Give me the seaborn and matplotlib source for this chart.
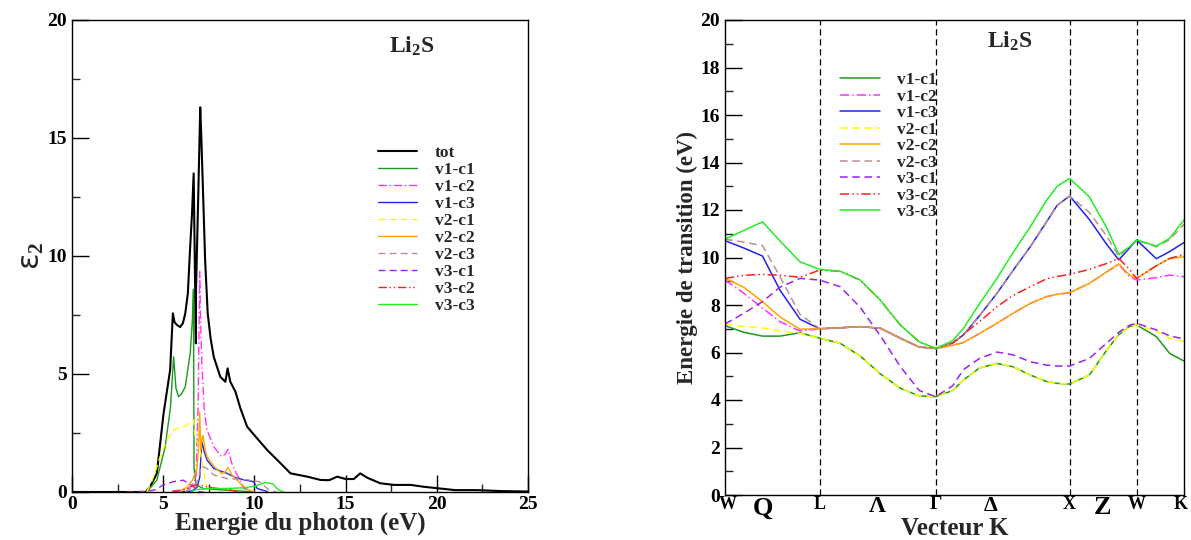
import numpy as np
import pandas as pd
import matplotlib
matplotlib.use("Agg")
import matplotlib.pyplot as plt
import seaborn as sns

# ---------------- Left panel data: epsilon_2 vs photon energy ----------------
tot_e = [0, 4.05, 4.3, 4.65, 5.02, 5.38, 5.53, 5.62, 5.75, 5.93, 6.08, 6.21, 6.35, 6.48, 6.58, 6.67,
         6.79, 6.80, 6.92, 7.03, 7.1, 7.18, 7.3, 7.44, 7.6, 7.77, 8.13, 8.41, 8.53, 8.68, 8.96, 9.23,
         9.6, 10.15, 10.7, 11.43, 11.98, 12.9, 13.63, 14.1, 14.54, 15.0, 15.45, 15.8, 16.2, 16.9,
         17.65, 18.57, 19.3, 20.04, 21.0, 22.2, 23.5, 25.0]
tot_y = [0, 0, 0.25, 0.79, 3.33, 5.17, 7.57, 7.2, 7.08, 6.99, 7.15, 7.57, 8.4, 10.4, 11.8, 13.5,
         6.3, 8.6, 12.5, 16.3, 14.8, 12.8, 9.8, 7.57, 6.5, 5.73, 4.88, 4.67, 5.24, 4.67, 4.25, 3.55,
         2.77, 2.27, 1.78, 1.22, 0.79, 0.65, 0.51, 0.5, 0.65, 0.55, 0.55, 0.79, 0.6, 0.37,
         0.3, 0.3, 0.22, 0.16, 0.08, 0.08, 0.04, 0.02]

v1c1_e = [4.1, 4.65, 5.11, 5.4, 5.57, 5.7, 5.84, 6.0, 6.21, 6.48, 6.6, 6.66, 6.69, 6.8, 7.2, 8.0, 9.0, 10.0]
v1c1_y = [0, 0.5, 1.92, 3.6, 5.73, 4.4, 4.04, 4.15, 4.46, 5.88, 7.3, 8.59, 1.0, 0.3, 0.15, 0.1, 0.05, 0.0]

v1c2_e = [5.5, 6.3, 6.6, 6.8, 6.92, 7.0, 7.06, 7.12, 7.25, 7.4, 7.77, 8.2, 8.4, 8.55, 8.77, 9.0, 9.23, 9.4, 9.8]
v1c2_y = [0.05, 0.1, 0.3, 0.6, 4.0, 9.34, 7.0, 5.45, 3.5, 2.63, 1.92, 1.5, 1.6, 1.81, 1.2, 0.8, 0.5, 0.15, 0.05]

v1c3_e = [6.0, 6.6, 6.85, 7.0, 7.12, 7.25, 7.4, 7.77, 8.1, 8.5, 9.0, 9.5, 9.96, 10.15, 10.7]
v1c3_y = [0.0, 0.05, 0.2, 0.6, 2.13, 1.7, 1.36, 1.0, 0.9, 0.79, 0.6, 0.5, 0.44, 0.15, 0.02]

v2c1_e = [4.1, 4.4, 4.84, 5.2, 5.57, 6.12, 6.4, 6.67, 6.75, 7.0, 7.15, 7.3, 7.5]
v2c1_y = [0.0, 0.5, 1.5, 2.2, 2.63, 2.77, 2.9, 3.05, 2.3, 1.9, 1.2, 0.4, 0.05]

v2c2_e = [5.8, 6.3, 6.6, 6.85, 6.95, 7.0, 7.06, 7.12, 7.18, 7.28, 7.4, 7.77, 8.2, 8.4, 8.55, 8.77, 9.23, 9.7, 10.0]
v2c2_y = [0.0, 0.2, 0.5, 1.0, 2.0, 3.4, 1.8, 2.2, 2.4, 1.9, 1.5, 1.1, 0.78, 0.85, 1.04, 0.72, 0.36, 0.08, 0.0]

v2c3_e = [6.2, 6.6, 6.9, 7.1, 7.4, 7.77, 8.5, 9.0, 9.6, 10.3, 10.8, 11.2]
v2c3_y = [0.0, 0.2, 0.5, 1.1, 1.0, 0.72, 0.57, 0.55, 0.52, 0.43, 0.08, 0.0]

v3c1_e = [3.0, 4.1, 4.6, 5.0, 5.57, 6.1, 6.67, 6.9, 7.2]
v3c1_y = [0.0, 0.03, 0.1, 0.3, 0.44, 0.5, 0.22, 0.02, 0.0]

v3c2_e = [5.5, 6.2, 6.6, 7.0, 7.5, 8.0, 8.6, 9.2]
v3c2_y = [0.0, 0.1, 0.25, 0.3, 0.2, 0.15, 0.1, 0.0]

v3c3_e = [6.5, 6.8, 7.5, 8.5, 9.5, 10.0, 10.6, 11.0, 11.3, 11.6]
v3c3_y = [0.0, 0.1, 0.15, 0.15, 0.18, 0.25, 0.4, 0.35, 0.1, 0.0]

# ---------------- Right panel data: transition energies along k-path ----------------
kpath = [0, 0.14, 0.28, 0.41, 0.56, 0.7071, 0.86, 1.01, 1.16, 1.31, 1.45, 1.5731,
         1.70, 1.78, 1.90, 2.03, 2.15, 2.28, 2.40, 2.48, 2.5731,
         2.72, 2.85, 2.94, 3.02, 3.0731, 3.22, 3.32, 3.4267]
t_v1c1 = [7.13, 6.85, 6.69, 6.69, 6.83, 6.60, 6.39, 5.85, 5.10, 4.49, 4.17, 4.14, 4.40, 4.84, 5.35, 5.54, 5.40,
          5.05, 4.78, 4.70, 4.67, 5.05, 6.10, 6.75, 7.10, 7.16, 6.67, 5.96, 5.64]
t_v1c2 = [9.05, 8.50, 7.87, 7.30, 6.90, 7.00, 7.04, 7.09, 7.02, 6.60, 6.23, 6.17, 6.30, 6.42, 6.80, 7.23, 7.65,
          8.07, 8.35, 8.45, 8.52, 8.91, 9.40, 9.70, 9.20, 9.05, 9.15, 9.26, 9.19]
t_v1c3 = [10.71, 10.40, 10.06, 8.63, 7.40, 7.00, 7.04, 7.09, 7.02, 6.60, 6.23, 6.17, 6.40, 6.74, 7.55, 8.49, 9.45,
          10.46, 11.50, 12.20, 12.59, 11.60, 10.55, 9.90, 10.40, 10.74, 9.95, 10.25, 10.63]
t_v2c1 = [7.20, 7.10, 7.04, 6.90, 6.81, 6.60, 6.39, 5.85, 5.10, 4.49, 4.17, 4.14, 4.40, 4.84, 5.35, 5.54, 5.40,
          5.05, 4.78, 4.70, 4.67, 5.05, 6.10, 6.75, 7.10, 7.16, 6.90, 6.60, 6.46]
t_v2c2 = [9.12, 8.75, 8.14, 7.50, 6.98, 7.00, 7.04, 7.09, 7.02, 6.60, 6.23, 6.17, 6.30, 6.42, 6.80, 7.23, 7.65,
          8.07, 8.35, 8.45, 8.52, 8.91, 9.40, 9.73, 9.26, 9.12, 9.65, 9.96, 10.03]
t_v2c3 = [10.77, 10.65, 10.50, 9.20, 7.60, 7.00, 7.04, 7.09, 7.02, 6.60, 6.23, 6.17, 6.40, 6.74, 7.55, 8.49, 9.45,
          10.46, 11.50, 12.20, 12.59, 11.90, 10.90, 10.05, 10.45, 10.74, 10.45, 10.75, 11.40]
t_v3c1 = [7.20, 7.65, 8.14, 8.75, 9.12, 9.05, 8.77, 7.90, 6.70, 5.40, 4.40, 4.14, 4.60, 5.28, 5.75, 6.02, 5.90,
          5.61, 5.47, 5.43, 5.43, 5.75, 6.40, 6.85, 7.15, 7.23, 6.95, 6.70, 6.57]
t_v3c2 = [9.12, 9.25, 9.29, 9.25, 9.17, 9.47, 9.42, 9.05, 8.20, 7.15, 6.45, 6.17, 6.40, 6.77, 7.30, 7.93, 8.40,
          8.77, 9.10, 9.20, 9.29, 9.50, 9.75, 9.96, 9.50, 9.12, 9.65, 9.96, 10.13]
t_v3c3 = [10.77, 11.14, 11.50, 10.70, 9.82, 9.50, 9.42, 9.05, 8.20, 7.15, 6.45, 6.17, 6.50, 7.02, 8.05, 9.12, 10.20,
          11.30, 12.40, 13.00, 13.33, 12.55, 11.25, 10.13, 10.45, 10.74, 10.48, 10.81, 11.58]

sym_pos = [0, 0.7071, 1.5731, 2.5731, 3.0731, 3.4267]
lab_pos = [0.02, 0.28, 0.7071, 1.14, 1.5731, 1.985, 2.5731, 2.82, 3.0731, 3.40]
lab_txt = ["W", "Q", "L", "Λ", "Γ", "Δ", "X", "Z", "W", "K"]
lab_size = [13, 19, 13, 17, 14, 16, 13, 19, 13, 13]

names = ["v1-c1", "v1-c2", "v1-c3", "v2-c1", "v2-c2", "v2-c3", "v3-c1", "v3-c2", "v3-c3"]
colors = ["#1a9a1a", "#ff33ff", "#2222ee", "#ffff00", "#ffa500", "#bc8f8f", "#a020f0", "#ff2020", "#22ee22"]
styles = ["-", (0, (6, 2, 1, 2)), "-", (0, (5, 3)), "-", (0, (5, 3)), (0, (5, 3)), (0, (6, 2, 1, 2, 1, 2)), "-"]

# ---------------- Style ----------------
sns.set_style("ticks")
plt.rcParams["font.family"] = ["Liberation Serif", "DejaVu Serif"]
plt.rcParams["font.weight"] = "bold"
plt.rcParams["mathtext.fontset"] = "custom"
plt.rcParams["mathtext.rm"] = "Liberation Serif:bold"
plt.rcParams["mathtext.it"] = "Liberation Serif:bold"
plt.rcParams["mathtext.bf"] = "Liberation Serif:bold"
plt.rcParams["mathtext.default"] = "rm"

fig = plt.figure(figsize=(11.91, 5.40), dpi=100)
axL = fig.add_axes([72 / 1191, (540 - 492) / 540, 456 / 1191, 472 / 540])
axR = fig.add_axes([725 / 1191, (540 - 495) / 540, 459 / 1191, 475 / 540])

# ---- Left panel ----
sns.lineplot(x=tot_e, y=tot_y, ax=axL, color="black", lw=1.5, label="tot", estimator=None, sort=False)
left_series = [(v1c1_e, v1c1_y), (v1c2_e, v1c2_y), (v1c3_e, v1c3_y), (v2c1_e, v2c1_y), (v2c2_e, v2c2_y),
               (v2c3_e, v2c3_y), (v3c1_e, v3c1_y), (v3c2_e, v3c2_y), (v3c3_e, v3c3_y)]
for (ex, ey), nm, c, ls in zip(left_series, names, colors, styles):
    sns.lineplot(x=ex, y=ey, ax=axL, color=c, lw=1.0, linestyle=ls, label=nm, estimator=None, sort=False)

axL.set_xlim(0, 25)
axL.set_ylim(0, 20)
axL.set_xticks([0, 5, 10, 15, 20, 25])
axL.set_xticks(np.arange(0, 25.1, 2.5), minor=True)
axL.set_yticks([0, 5, 10, 15, 20])
axL.set_yticks(np.arange(0, 20.1, 2.5), minor=True)
axL.set_xlabel("Energie du photon (eV)", fontsize=18, fontweight="bold", labelpad=-1)
axL.set_ylabel("ε$_2$", fontsize=22, fontweight="normal", labelpad=1,
               family=["DejaVu Sans"])
axL.text(0.746, 0.945, "Li$_2$S", transform=axL.transAxes, ha="center", va="center", fontsize=17)
axL.legend(loc="upper left", bbox_to_anchor=(0.67, 0.735), frameon=False, fontsize=12.5,
           handlelength=2.3, handletextpad=1.0, labelspacing=0.05, borderaxespad=0, borderpad=0)

# ---- Right panel ----
for yv, nm, c, ls in zip([t_v1c1, t_v1c2, t_v1c3, t_v2c1, t_v2c2, t_v2c3, t_v3c1, t_v3c2, t_v3c3],
                         names, colors, styles):
    sns.lineplot(x=kpath, y=yv, ax=axR, color=c, lw=1.1, linestyle=ls, label=nm, estimator=None, sort=False)
for p in sym_pos[1:-1]:
    axR.axvline(p, color="black", lw=0.9, linestyle=(0, (5, 3)), zorder=0)
axR.set_xlim(0, 3.4267)
axR.set_ylim(0, 20)
axR.set_yticks(np.arange(0, 21, 2))
axR.set_yticks(np.arange(0, 21, 1), minor=True)
axR.set_xticks(lab_pos)
axR.set_xticklabels(lab_txt)
axR.set_xlabel("Vecteur K", fontsize=18, fontweight="bold", labelpad=-2)
axR.set_ylabel("Energie de transition (eV)", fontsize=16.5, fontweight="bold", labelpad=2)
axR.text(0.62, 0.955, "Li$_2$S", transform=axR.transAxes, ha="center", va="center", fontsize=17)
axR.legend(loc="upper left", bbox_to_anchor=(0.25, 0.89), frameon=False, fontsize=12.5,
           handlelength=2.3, handletextpad=1.0, labelspacing=0.02, borderaxespad=0, borderpad=0)

for ax in (axL, axR):
    for sp in ax.spines.values():
        sp.set_visible(True)
        sp.set_linewidth(1.0)
        sp.set_color("black")
    ax.tick_params(which="major", direction="in", length=12, width=1, labelsize=14, colors="black")
    ax.tick_params(which="minor", direction="in", length=6, width=1)
axL.tick_params(axis="x", pad=3)
axR.tick_params(axis="x", which="both", length=0, pad=1)
for t in axL.get_xticklabels() + axL.get_yticklabels() + axR.get_yticklabels():
    t.set_fontweight("bold")
for t, s in zip(axR.get_xticklabels(), lab_size):
    t.set_fontsize(s)
    t.set_fontweight("bold")

fig.savefig("out.png", dpi=100)
